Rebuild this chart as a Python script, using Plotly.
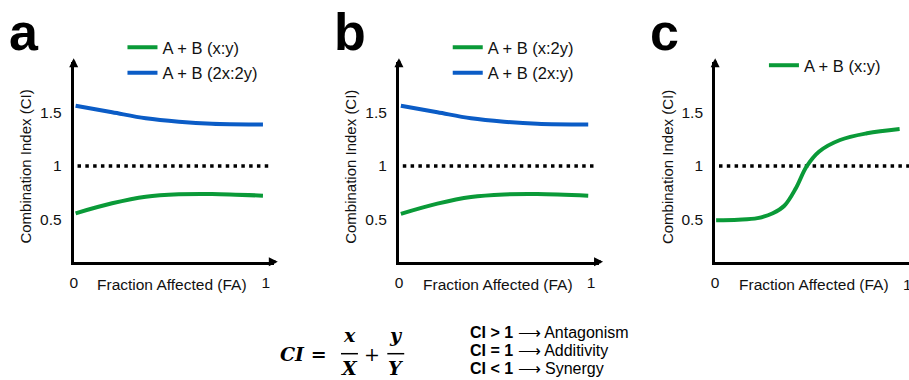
import plotly.graph_objects as go

# ---------------- data ----------------
fa_a_green = [0.01, 0.20, 0.375, 0.547, 0.72, 0.985]
ci_a_green = [0.560, 0.653, 0.714, 0.737, 0.740, 0.724]
fa_a_blue = [0.01, 0.20, 0.375, 0.547, 0.72, 0.985]
ci_a_blue = [1.561, 1.500, 1.444, 1.412, 1.393, 1.386]

fa_b_green = [0.01, 0.20, 0.375, 0.547, 0.72, 0.985]
ci_b_green = [0.555, 0.650, 0.712, 0.736, 0.740, 0.724]
fa_b_blue = [0.01, 0.20, 0.375, 0.547, 0.72, 0.985]
ci_b_blue = [1.561, 1.500, 1.444, 1.412, 1.393, 1.386]

fa_c_green = [0.005, 0.12, 0.22, 0.30, 0.36, 0.42, 0.475, 0.54, 0.65, 0.79, 0.96]
ci_c_green = [0.495, 0.500, 0.515, 0.560, 0.630, 0.793, 0.993, 1.133, 1.242, 1.304, 1.344]

ref_fa = [0.02, 1.03]
ref_ci = [1, 1]

names_a = ["A + B (x:y)", "A + B (2x:2y)"]
names_b = ["A + B (x:2y)", "A + B (2x:y)"]
names_c = ["A + B (x:y)"]

ytick_vals = [0.5, 1, 1.5]
ytick_text = ["0.5", "1", "1.5"]
xtick_vals = [0, 1]
xtick_text = ["0", "1"]

GREEN = "#0A9A38"
BLUE = "#0B5CC6"
W, H = 909, 380
FONT = "Liberation Sans, Arial, sans-serif"
TXT = "#111"


def px(x):
    return x / W


def py(y):
    return 1 - y / H


fig = go.Figure()

# panel geometry in pixels
axis_x0 = [70.0, 396.7, 714.3]
x_unit = 193.0
y_top_px, y_bot_px = 62.0, 261.7
ci1_px, y_unit = 166.0, 107.5
y_lo = 1 - (y_bot_px - ci1_px) / y_unit
y_hi = 1 + (ci1_px - y_top_px) / y_unit

panels = [
    (fa_a_green, ci_a_green, fa_a_blue, ci_a_blue, names_a),
    (fa_b_green, ci_b_green, fa_b_blue, ci_b_blue, names_b),
    (fa_c_green, ci_c_green, None, None, names_c),
]
legend_ids = ["legend", "legend2", "legend3"]

for i, (fg, cg, fb, cb, nm) in enumerate(panels):
    sx = "" if i == 0 else str(i + 1)
    xr, yr = "x" + sx, "y" + sx
    fig.add_trace(go.Scatter(x=ref_fa, y=ref_ci, mode="lines", xaxis=xr, yaxis=yr,
                             line=dict(color="black", width=3.5, dash="3.5px,4.3px"),
                             showlegend=False, hoverinfo="skip"))
    fig.add_trace(go.Scatter(x=fg, y=cg, mode="lines", name=nm[0], xaxis=xr, yaxis=yr,
                             line=dict(color=GREEN, width=4, shape="spline"),
                             legend=legend_ids[i], legendgroup=f"g{i}a"))
    if fb is not None:
        fig.add_trace(go.Scatter(x=fb, y=cb, mode="lines", name=nm[1], xaxis=xr, yaxis=yr,
                                 line=dict(color=BLUE, width=4, shape="spline"),
                                 legend=legend_ids[i], legendgroup=f"g{i}b"))

layout = dict(width=W, height=H, margin=dict(l=0, r=0, t=0, b=0),
              paper_bgcolor="white", plot_bgcolor="white",
              font=dict(family=FONT, color=TXT))

annotations = []
shapes = []
for i, ax0 in enumerate(axis_x0):
    sx = "" if i == 0 else str(i + 1)
    x_end_px = min(ax0 + 201, W)
    layout["xaxis" + sx] = dict(
        domain=[px(ax0), px(x_end_px)], range=[0, (x_end_px - ax0) / x_unit],
        anchor="y" + sx, showline=True, linewidth=3, linecolor="black",
        showgrid=False, zeroline=False, ticks="", tickvals=xtick_vals, ticktext=xtick_text,
        tickfont=dict(size=15.5, color=TXT), ticklabelstandoff=5, fixedrange=True)
    layout["yaxis" + sx] = dict(
        domain=[py(y_bot_px), py(y_top_px)], range=[y_lo, y_hi],
        anchor="x" + sx, showline=True, linewidth=3, linecolor="black",
        showgrid=False, zeroline=False, ticks="", tickvals=ytick_vals, ticktext=ytick_text,
        tickfont=dict(size=15.5, color=TXT), ticklabelstandoff=6, fixedrange=True)
    # arrow heads
    annotations.append(dict(xref="paper", yref="paper", x=px(ax0), y=py(58.3), ax=0, ay=10,
                            text="", showarrow=True, arrowhead=2, arrowsize=0.6,
                            arrowwidth=3, arrowcolor="black"))
    if ax0 + 205 < W:
        annotations.append(dict(xref="paper", yref="paper", x=px(ax0 + 205), y=py(y_bot_px),
                                ax=-10, ay=0, text="", showarrow=True, arrowhead=2,
                                arrowsize=0.6, arrowwidth=3, arrowcolor="black"))
    else:
        # the "1" tick of the last panel sits at the page edge
        annotations.append(dict(xref="paper", yref="paper", x=px(ax0 + x_unit), y=py(284),
                                text="1", showarrow=False, xanchor="center", yanchor="middle",
                                font=dict(size=15.5, color=TXT)))
    # axis titles
    annotations.append(dict(xref="paper", yref="paper", x=px(ax0 - 48), y=py(166.7),
                            text="Combination Index (CI)", textangle=-90, showarrow=False,
                            font=dict(size=15, color=TXT), xanchor="center", yanchor="middle"))
    annotations.append(dict(xref="paper", yref="paper", x=px(ax0 + 99), y=py(284),
                            text="Fraction Affected (FA)", showarrow=False,
                            font=dict(size=15.5, color=TXT), xanchor="center", yanchor="middle"))
    # panel letter
    annotations.append(dict(xref="paper", yref="paper", x=px(ax0 - 67), y=py(32),
                            text="<b>" + "abc"[i] + "</b>", showarrow=False,
                            font=dict(size=52, color="black"), xanchor="left", yanchor="middle"))
    # legend
    layout[legend_ids[i]] = dict(x=px(ax0 + 49), y=py(30 if i < 2 else 48), xanchor="left",
                                 yanchor="top", bgcolor="rgba(0,0,0,0)",
                                 font=dict(size=16.5, color=TXT), tracegroupgap=1,
                                 itemclick=False, itemdoubleclick=False)

# formula
serif = "DejaVu Serif, Liberation Serif, serif"
fs = 19
annotations += [
    dict(xref="paper", yref="paper", x=px(275), y=py(354), text="<b><i>CI</i> =</b>",
         showarrow=False, xanchor="left", yanchor="middle", font=dict(family=serif, size=fs, color="black")),
    dict(xref="paper", yref="paper", x=px(347), y=py(335), text="<b><i>x</i></b>",
         showarrow=False, xanchor="center", yanchor="middle", font=dict(family=serif, size=fs, color="black")),
    dict(xref="paper", yref="paper", x=px(347), y=0, text="<b><i>X</i></b>", borderpad=0,
         showarrow=False, xanchor="center", yanchor="bottom", font=dict(family=serif, size=fs, color="black")),
    dict(xref="paper", yref="paper", x=px(370), y=py(354), text="+",
         showarrow=False, xanchor="center", yanchor="middle", font=dict(family=serif, size=fs, color="black")),
    dict(xref="paper", yref="paper", x=px(393.3), y=py(335), text="<b><i>y</i></b>",
         showarrow=False, xanchor="center", yanchor="middle", font=dict(family=serif, size=fs, color="black")),
    dict(xref="paper", yref="paper", x=px(393.3), y=0, text="<b><i>Y</i></b>", borderpad=0,
         showarrow=False, xanchor="center", yanchor="bottom", font=dict(family=serif, size=fs, color="black")),
]
shapes += [
    dict(type="line", xref="paper", yref="paper", x0=px(338.5), x1=px(355.5), y0=py(353.7), y1=py(353.7),
         line=dict(color="black", width=1.5)),
    dict(type="line", xref="paper", yref="paper", x0=px(385), x1=px(402), y0=py(353.7), y1=py(353.7),
         line=dict(color="black", width=1.5)),
]

rules = ["<b>CI &gt; 1</b> \u27F6 Antagonism",
         "<b>CI = 1</b> \u27F6 Additivity",
         "<b>CI &lt; 1</b> \u27F6 Synergy"]
for txt, yc in zip(rules, [332.5, 350.5, 368.5]):
    annotations.append(dict(xref="paper", yref="paper", x=px(467), y=py(yc), text=txt,
                            showarrow=False, xanchor="left", yanchor="middle", borderpad=0,
                            font=dict(size=16, color="black")))

layout["annotations"] = annotations
layout["shapes"] = shapes
fig.update_layout(**layout)

fig.write_html("out.html")
